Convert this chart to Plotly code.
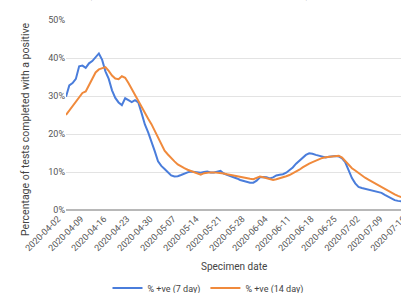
import pandas as pd
import plotly.graph_objects as go

start_date = "2020-04-02"
pos_7day = [
    29.8, 32.8, 33.4, 34.5, 37.8, 38.0, 37.4, 38.6, 39.2, 40.2,
    41.2, 39.5, 36.5, 34.5, 31.5, 29.5, 28.3, 27.6, 29.4, 28.9,
    28.4, 28.9, 28.3, 25.5, 22.5, 20.4, 18.2, 15.5, 12.8, 11.6,
    10.8, 9.8, 9.1, 8.8, 8.9, 9.2, 9.6, 9.9, 10.1, 10.0,
    9.8, 9.8, 10.0, 10.1, 9.9, 9.9, 10.1, 10.3, 9.6, 9.3,
    9.0, 8.8, 8.3, 7.9, 7.6, 7.3, 7.2, 7.2, 7.7, 8.6,
    8.7, 8.6, 8.3, 8.6, 9.1, 9.3, 9.4, 9.8, 10.4, 11.2,
    12.2, 12.9, 13.8, 14.5, 14.9, 14.8, 14.5, 14.2, 13.9, 13.8,
    14.0, 14.1, 14.2, 14.1, 13.6, 12.5, 10.6, 8.4, 7.0, 6.1,
    5.8, 5.6, 5.4, 5.2, 5.1, 4.8, 4.5, 4.0, 3.5, 2.9,
    2.6, 2.4, 2.3,
]
pos_14day = [
    25.0, 26.2, 27.4, 28.6, 29.8, 30.8, 31.2, 33.0, 34.6, 36.2,
    37.0, 37.3, 37.6, 36.6, 35.4, 34.6, 34.4, 35.2, 34.8, 33.4,
    31.8, 30.3, 29.0, 27.4, 25.4, 24.0, 22.6, 20.8, 18.8, 17.0,
    15.6, 14.6, 13.6, 12.8, 12.0, 11.4, 11.0, 10.6, 10.3, 10.1,
    9.6, 9.3, 9.7, 9.9, 9.9, 9.9, 9.8, 9.8, 9.6, 9.4,
    9.2, 9.0, 8.8, 8.6, 8.4, 8.3, 8.2, 8.1, 8.4, 8.8,
    8.6, 8.4, 8.1, 7.9, 8.1, 8.3, 8.6, 8.9, 9.2, 9.6,
    10.1, 10.6, 11.2, 11.8, 12.2, 12.6, 13.0, 13.4, 13.7, 13.9,
    14.0, 14.1, 14.2, 14.3, 13.8, 12.8, 11.9, 11.0, 10.4, 9.7,
    9.0, 8.5, 8.0, 7.5, 7.0, 6.4, 5.9, 5.4, 4.9, 4.5,
    4.1, 3.7, 3.4,
]
series_names = ["% +ve (7 day)", "% +ve (14 day)"]
title_text = "(7 day and 14 day rolling average)"
x_title = "Specimen date"
y_title = "Percentage of tests completed with a positive"

dates = pd.date_range(start_date, periods=len(pos_7day), freq="D")

FONT = "Roboto, Arial, sans-serif"
W, H = 420, 293
L, T, B = 66, 20, 83
PW = W - L  # plot width in px


def px(xp):
    return (xp - L) / PW


def py(yp):
    return (H - B - yp) / (H - T - B)


fig = go.Figure()
fig.add_trace(go.Scatter(x=dates, y=[v / 100 for v in pos_7day], mode="lines",
                         name=series_names[0], line=dict(color="#4a7ddb", width=2)))
fig.add_trace(go.Scatter(x=dates, y=[v / 100 for v in pos_14day], mode="lines",
                         name=series_names[1], line=dict(color="#f08a3c", width=2)))

fig.update_layout(
    width=W, height=H,
    margin=dict(l=L, r=0, t=T, b=B, autoexpand=False),
    paper_bgcolor="white", plot_bgcolor="white",
    font=dict(family=FONT, size=10, color="#555"),
    showlegend=True,
    legend=dict(orientation="h", x=px(208), xanchor="center", y=py(288), yanchor="middle",
                font=dict(size=9, color="#444"), itemwidth=30, bgcolor="rgba(0,0,0,0)"),
    xaxis=dict(
        type="date", automargin=False,
        range=["2020-04-02", "2020-07-18 17:00"],
        tick0=start_date, dtick=7 * 86400000, tickformat="%Y-%m-%d",
        tickangle=-45, tickfont=dict(size=9, color="#555"),
        ticklabelshift=-8, ticklabelstandoff=1,
        showgrid=False, showline=False, zeroline=False, ticks="",
    ),
    yaxis=dict(
        automargin=False,
        range=[0, 0.5], dtick=0.1, tickformat=".0%",
        tickfont=dict(size=9, color="#555"),
        showgrid=True, gridcolor="#e3e3e3", gridwidth=1,
        zeroline=True, zerolinecolor="#b8b8b8", zerolinewidth=2,
        ticks="", showline=False,
    ),
    annotations=[
        dict(text=x_title, xref="paper", yref="paper", x=px(234), y=py(266),
             xanchor="center", yanchor="middle", showarrow=False,
             font=dict(size=10, color="#444")),
        dict(text=y_title, xref="paper", yref="paper", x=px(25), y=py(130),
             xanchor="center", yanchor="middle", textangle=-90, showarrow=False,
             font=dict(size=10.5, color="#444")),
        dict(text=title_text, xref="paper", yref="paper", x=px(199), y=py(3),
             xanchor="center", yanchor="bottom", showarrow=False,
             font=dict(size=15, color="#444")),
    ],
)

fig.write_html(
    "out.html",
    config={"displayModeBar": False},
    post_script="document.body.style.margin='0';document.body.style.overflow='hidden';",
)
